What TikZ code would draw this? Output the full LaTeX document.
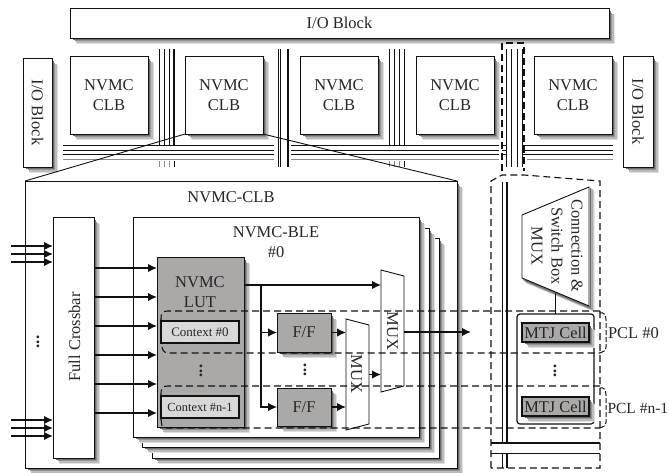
\documentclass[tikz,border=0pt]{standalone}
\usepackage{fontspec}
\setmainfont{Liberation Serif}
\usetikzlibrary{arrows.meta,calc}
\definecolor{ink}{HTML}{111111}
\definecolor{txt}{HTML}{262626}
\definecolor{lutgray}{HTML}{ABA8A8}
\definecolor{ctxgray}{HTML}{D9D8D8}
\definecolor{shA}{HTML}{6E6E6E}
\definecolor{shB}{HTML}{929292}
\definecolor{shC}{HTML}{BBBBBB}
\definecolor{shD}{HTML}{DFDFDF}
\tikzset{
  pbox/.style={draw=ink,line width=1pt,fill=white,inner sep=0pt,outer sep=0pt,align=center,text=txt,
    font=\fontsize{16.5}{20}\selectfont},
  shadowbox/.style={pbox},
  graybox/.style={pbox,fill=lutgray},
  ctxbox/.style={pbox,fill=ctxgray,line width=1.2pt},
  lbl/.style={inner sep=0pt,outer sep=0pt,align=center,text=txt,font=\fontsize{16.5}{20}\selectfont},
  track/.style={draw=ink,line width=1pt},
  trackb/.style={draw=ink,line width=1.4pt},
  trackg/.style={draw=black!45,line width=.8pt},
  wire/.style={draw=ink,line width=1.3pt},
  arr/.style={draw=ink,line width=1.5pt,-{Latex[length=9pt,width=8.5pt]}},
  zoomline/.style={draw=ink,line width=.9pt},
  dashline/.style={draw=ink,line width=1.1pt,dash pattern=on 7pt off 4pt},
  muxshape/.style={draw=ink,line width=.9pt,fill=white},
  shline/.style={line width=1.4pt},
}
\newcommand{\bx}[7]{% style name x1 y1 x2 y2 text
  \pgfmathsetmacro{\bw}{#5-#3}\pgfmathsetmacro{\bh}{#6-#4}
  \node[#1,anchor=north west,minimum width=\bw pt,minimum height=\bh pt] (#2) at (#3,#4) {#7};}
\newcommand{\shl}[6]{\pgfmathsetmacro{\sxa}{#2+#1+2}\pgfmathsetmacro{\sya}{#3+#1+2}\pgfmathsetmacro{\sxb}{#4+#1}\pgfmathsetmacro{\syb}{#5+#1}%
  \draw[shline,#6] (\sxb,\sya) -- (\sxb,\syb) -- (\sxa,\syb);}
\newcommand{\sh}[4]{% soft shadow along the right and lower edges
  \shl{5}{#1}{#2}{#3}{#4}{shD}\shl{3.9}{#1}{#2}{#3}{#4}{shC}\shl{2.6}{#1}{#2}{#3}{#4}{shB}\shl{1.3}{#1}{#2}{#3}{#4}{shA}}
\newcommand{\sbx}[7]{\sh{#3}{#4}{#5}{#6}\bx{#1}{#2}{#3}{#4}{#5}{#6}{#7}}
\begin{document}
\begin{tikzpicture}[x=1pt,y=-1pt]
\useasboundingbox (0,0) rectangle (669,472);
% routing tracks
\foreach \yy in {145,150,154.5} \draw[track] (63,\yy) -- (613,\yy);
\draw[trackg] (63,159.3) -- (613,159.3);
\fill[white] (274,143.5) rectangle (291,161);
\fill[white] (499,143.5) rectangle (527,161);
\foreach \xx in {159.5,164,169.5} {\draw[track] (\xx,49) -- (\xx,144.5); \draw[trackg] (\xx,161) -- (\xx,167);}
\draw[trackb] (174,49) -- (174,144.5); \draw[track] (174,161) -- (174,167);
\foreach \xx in {389.5,394,399.5} {\draw[track] (\xx,49) -- (\xx,144.5); \draw[trackg] (\xx,161) -- (\xx,167);}
\draw[trackb] (404.5,49) -- (404.5,144.5); \draw[track] (404.5,161) -- (404.5,167);
\foreach \xx in {278,280.5} \draw[track] (\xx,49) -- (\xx,167);
\draw[trackb] (288,49) -- (288,167);
\foreach \xx in {506.5,511.5,517.3} \draw[track] (\xx,49) -- (\xx,167);
\draw[trackb] (522.7,49) -- (522.7,167);
\foreach \yy in {145,150,154.5} {\draw[track] (502,\yy) -- (506.5,\yy); \draw[track] (522.7,\yy) -- (527,\yy);}
% top level blocks
\sbx{shadowbox}{iotop}{70}{8}{609}{38}{I/O Block}
\sbx{shadowbox}{ioleft}{23}{58}{52}{167}{}
\node[lbl,rotate=-90] at (ioleft.center) {I/O Block};
\sbx{shadowbox}{ioright}{623}{56}{653}{167}{}
\node[lbl,rotate=-90] at (ioright.center) {I/O Block};
\sbx{shadowbox}{clba}{70}{56}{148}{134}{NVMC\\CLB}
\sbx{shadowbox}{clbb}{185}{56}{263}{134}{NVMC\\CLB}
\sbx{shadowbox}{clbc}{300}{56}{378}{134}{NVMC\\CLB}
\sbx{shadowbox}{clbd}{416}{56}{494}{134}{NVMC\\CLB}
\sbx{shadowbox}{clbe}{534}{56}{612}{134}{NVMC\\CLB}
% expanded CLB
\sbx{shadowbox}{bigclb}{25}{181}{457}{468}{}
\draw[zoomline] (clbb.south west) -- (bigclb.north west);
\draw[zoomline] (clbb.south east) -- (bigclb.north east);
\node[lbl] (clbtitle) at (231,197) {NVMC-CLB};
\sbx{shadowbox}{blec}{152}{238}{439}{458}{}
\sbx{shadowbox}{bleb}{142}{228}{429}{447}{}
\sbx{shadowbox}{blea}{133}{217}{419}{437}{}
\node[lbl] (bletitle) at (276,242) {NVMC-BLE\\\#0};
\sbx{shadowbox}{xbar}{53}{217}{94}{458}{}
\node[lbl,rotate=90] (xbartext) at (74.5,337) {Full Crossbar};
\node[lbl,font=\fontsize{17}{17}\selectfont\bfseries,rotate=90] (dotsa) at (38,342) {...};
\foreach \yy in {246,254,262,420,428,436} {
  \coordinate (inp\yy) at (11,\yy);
  \draw[arr] (inp\yy) -- (xbar.west |- inp\yy);}
% LUT
\sbx{graybox}{lut}{157}{257}{244}{427}{}
\node[lbl] (luttext) at (200,292) {NVMC\\LUT};
\bx{ctxbox}{ctxa}{161}{321}{239}{343}{\fontsize{13}{13}\selectfont Context \#0}
\bx{ctxbox}{ctxb}{161}{396}{239}{418}{\fontsize{12.4}{13}\selectfont Context \#n-1}
\node[lbl,font=\fontsize{17}{17}\selectfont\bfseries,rotate=90] (dotsb) at (201,371) {...};
\foreach \yy in {268,297,326,355,384,413} {
  \coordinate (row\yy) at (0,\yy);
  \draw[arr] (xbar.east |- row\yy) -- (lut.west |- row\yy);}
% F/F
\sbx{graybox}{ffa}{277}{313}{331}{352}{F/F}
\sbx{graybox}{ffb}{277}{388}{331}{426}{F/F}
\node[lbl,font=\fontsize{17}{17}\selectfont\bfseries,rotate=90] (dotsc) at (305,370) {...};
% MUXes
\draw[muxshape] (346,319) coordinate (msa) -- (369,325) -- (369,424) -- (346,430) coordinate (msb) -- cycle;
\node[lbl,rotate=-90] (muxs) at (356.5,374) {MUX};
\draw[muxshape] (381,270) coordinate (mla) -- (404,276) -- (404,386) -- (381,392) coordinate (mlb) -- cycle;
\node[lbl,rotate=-90] (muxl) at (392.5,331) {MUX};
\coordinate (lutout) at (lut.east |- 0,285);
\coordinate (branch) at (261,285);
\draw[arr] (lutout) -- (381,285);
\draw[wire] (branch) -- (261,333);
\draw[arr,line width=1.3pt] (branch) |- (ffa.west);
\draw[arr,line width=1.3pt] (branch) |- (ffb.west);
\draw[arr] (ffa.east) -- (346,332.5);
\draw[arr] (ffb.east) -- (346,407);
\draw[arr] (369,374.5) -- (381,374.5);
\coordinate (outend) at (471,332);
\draw[arr] (404,332) -- (outend);
% right detail
\draw[dashline] (502,171) -- (502,43) -- (524,43) -- (524,171);
\draw[track] (502,182) -- (502,443); \draw[trackb] (507,182) -- (507,443);
\draw[track] (502,453) -- (502,468); \draw[trackb] (507,453) -- (507,468);
\draw[trackb] (491,443) -- (600,443);
\draw[track] (491,453) -- (600,453);
\draw[dashline] (491,468) -- (491,181) -- (502,175) -- (524,175) -- (600,181) -- (600,468) -- (491,468);
\draw[shline,shD] (594,191) -- (594,311) -- (527,283);
\draw[shline,shC] (593,190) -- (593,310) -- (526,282);
\draw[shline,shB] (592,189) -- (592,309) -- (525,281);
\draw[shline,shA] (590.5,188) -- (590.5,307.5) -- (523.5,279.5);
\draw[muxshape] (522,215) -- (589,187) -- (589,306) -- (522,278) -- cycle;
\node[lbl,rotate=-90] (muxc) at (557,246) {Connection \&\\Switch Box\\MUX};
\bx{pbox,rounded corners=3pt,line width=1.2pt}{mtj}{517}{314}{594}{424}{}
\draw[wire,line width=1pt] (555,292.5) coordinate (muxcout) -- (mtj.north -| muxcout);
\sbx{graybox,line width=1.2pt}{cella}{522}{323}{589}{342}{\fontsize{16.4}{16}\selectfont MTJ Cell}
\sbx{graybox,line width=1.2pt}{cellb}{522}{397}{589}{416}{\fontsize{16.4}{16}\selectfont MTJ Cell}
\node[lbl,font=\fontsize{17}{17}\selectfont\bfseries,rotate=90] (dotsd) at (555,371) {...};
% PCL bands
\draw[dashline] (600,311) -- (168,311) .. controls (162,311) and (161,313) .. (161,320);
\draw[dashline] (162,347) .. controls (163,352) and (165,353) .. (170,353) -- (600,353);
\draw[dashline] (600,386) -- (168,386) .. controls (162,386) and (161,388) .. (161,395);
\draw[dashline] (161,419) -- (162,426) -- (167,428) -- (600,428);
\draw[line width=1pt,draw=ink,dash pattern=on 5pt off 2pt] (600,313) .. controls (604,312) and (606,315) .. (606,320) -- (606,347) .. controls (606,351) and (603,352) .. (600,353);
\draw[line width=1pt,draw=ink,dash pattern=on 5pt off 2pt] (600,388) .. controls (604,387) and (606,390) .. (606,395) -- (606,422) .. controls (606,426) and (603,427) .. (600,428);
\node[lbl,anchor=west] (pcla) at (608,333) {PCL \#0};
\node[lbl,anchor=west,font=\fontsize{15.5}{16}\selectfont] (pclb) at (607.5,408) {PCL \#n-1};
\end{tikzpicture}
\end{document}
